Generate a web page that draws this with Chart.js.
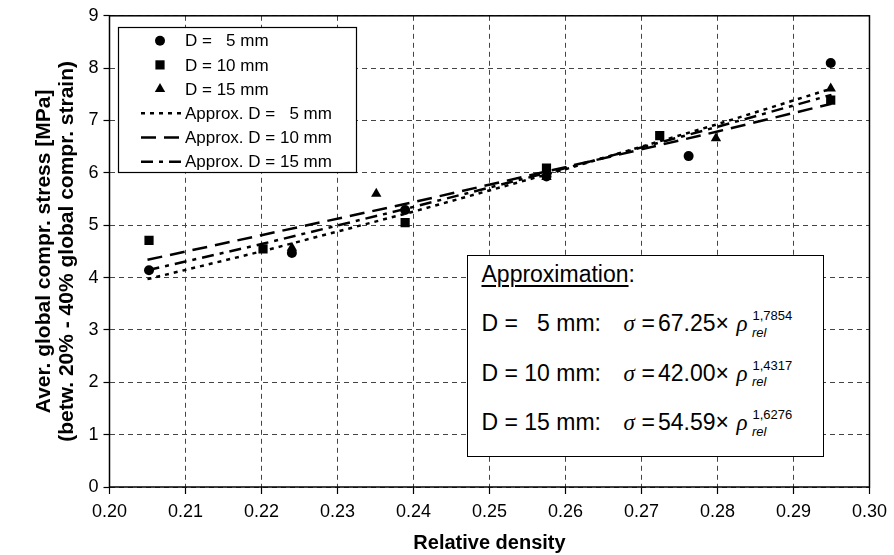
<!DOCTYPE html>
<html>
<head>
<meta charset="utf-8">
<script src="https://cdn.jsdelivr.net/npm/chart.js@4.4.1/dist/chart.umd.min.js"></script>
<style>
html,body{margin:0;padding:0;background:#fff;}
#wrap{position:relative;width:894px;height:555px;overflow:hidden;}
#c{position:absolute;left:0;top:0;}
#approx{position:absolute;left:467px;top:255px;width:357px;height:202px;box-sizing:border-box;border:1.5px solid #000;background:#fff;font-family:'Liberation Sans',Arial,sans-serif;font-size:23px;color:#000;}
.row{position:absolute;left:0;width:100%;height:27px;line-height:27px;}
.row > span{position:absolute;top:0;white-space:pre;}
.greek{font-family:'Liberation Serif','Times New Roman',serif;font-style:italic;}
.small{font-size:13px;line-height:13px;}
.u{text-decoration:underline;text-underline-offset:3px;text-decoration-thickness:1.5px;}
</style>
</head>
<body>
<div id="wrap">
<canvas id="c" width="894" height="555"></canvas>
<div id="approx"></div>
</div>
<script>
// ---------- data ----------
const densD5    = [0.2052, 0.2240, 0.2389, 0.2575, 0.2762, 0.2949];
const stressD5  = [4.14, 4.47, 5.29, 5.93, 6.32, 8.10];
const densD10   = [0.2052, 0.2202, 0.2389, 0.2575, 0.2724, 0.2949];
const stressD10 = [4.71, 4.55, 5.05, 6.09, 6.71, 7.39];
const densD15   = [0.2240, 0.2351, 0.2575, 0.2798, 0.2949];
const stressD15 = [4.57, 5.60, 5.92, 6.66, 7.61];

const fitDens  = [0.205, 0.220, 0.240, 0.260, 0.280, 0.295];
const fitD5    = [3.97, 4.50, 5.26, 6.07, 6.93, 7.61];
const fitD10   = [4.34, 4.81, 5.44, 6.11, 6.79, 7.32];
const fitD15   = [4.14, 4.64, 5.35, 6.09, 6.88, 7.49];

const seriesLabels = ['D =   5 mm', 'D = 10 mm', 'D = 15 mm',
                      'Approx. D =   5 mm', 'Approx. D = 10 mm', 'Approx. D = 15 mm'];

const xTickValues = [0.20, 0.21, 0.22, 0.23, 0.24, 0.25, 0.26, 0.27, 0.28, 0.29, 0.30];
const xTickLabels = ['0.20', '0.21', '0.22', '0.23', '0.24', '0.25', '0.26', '0.27', '0.28', '0.29', '0.30'];
const yTickValues = [0, 1, 2, 3, 4, 5, 6, 7, 8, 9];
const yTickLabels = ['0', '1', '2', '3', '4', '5', '6', '7', '8', '9'];

const xTitle = 'Relative density';
const yTitle = ['Aver. global compr. stress [MPa]', '(betw. 20% - 40% global compr. strain)'];

const approxTitle = 'Approximation';
const approxRowLabels = ['D =   5 mm:', 'D = 10 mm:', 'D = 15 mm:'];
const approxCoef = ['67.25', '42.00', '54.59'];
const approxExp  = ['1,7854', '1,4317', '1,6276'];

// ---------- helpers ----------
const pts = (xs, ys) => xs.map((x, i) => ({x: x, y: ys[i]}));
const FONT = "'Liberation Sans', Arial, sans-serif";

function markerSet(label, xs, ys, style, r) {
  return {label, data: pts(xs, ys), pointStyle: style, pointRadius: r, pointHoverRadius: r,
          backgroundColor: '#000', borderColor: '#000', borderWidth: 0, showLine: false};
}
function lineSet(label, xs, ys, dash) {
  return {label, data: pts(xs, ys), showLine: true, pointRadius: 0, pointHoverRadius: 0,
          borderColor: '#000', backgroundColor: '#000', borderWidth: 2.5, borderDash: dash, fill: false, tension: 0};
}

const datasets = [
  markerSet(seriesLabels[0], densD5, stressD5, 'circle', 5),
  markerSet(seriesLabels[1], densD10, stressD10, 'rect', 6.5),
  markerSet(seriesLabels[2], densD15, stressD15, 'triangle', 6),
  lineSet(seriesLabels[3], fitDens, fitD5, [4, 5]),
  lineSet(seriesLabels[4], fitDens, fitD10, [15, 8]),
  lineSet(seriesLabels[5], fitDens, fitD15, [12, 6, 4, 6])
];

const framePlugin = {
  id: 'frameAndLegend',
  afterDraw(chart) {
    const ctx = chart.ctx, a = chart.chartArea;
    ctx.save();
    ctx.setLineDash([]);
    ctx.strokeStyle = '#000';
    ctx.lineWidth = 1.5;
    ctx.strokeRect(a.left, a.top, a.right - a.left, a.bottom - a.top);
    // legend box
    const L = {x: 118.5, y: 27.5, w: 238, h: 145};
    ctx.fillStyle = '#fff';
    ctx.fillRect(L.x, L.y, L.w, L.h);
    ctx.lineWidth = 1.2;
    ctx.strokeRect(L.x, L.y, L.w, L.h);
    ctx.font = '17px ' + FONT;
    ctx.textBaseline = 'middle';
    ctx.textAlign = 'left';
    chart.data.datasets.forEach((ds, i) => {
      const cy = 40.7 + i * 24.2;
      if (ds.showLine) {
        ctx.save();
        ctx.strokeStyle = ds.borderColor;
        ctx.lineWidth = ds.borderWidth;
        ctx.setLineDash(ds.borderDash);
        ctx.beginPath();
        ctx.moveTo(141, cy);
        ctx.lineTo(181, cy);
        ctx.stroke();
        ctx.restore();
      } else {
        ctx.save();
        ctx.fillStyle = '#000';
        ctx.strokeStyle = '#000';
        Chart.helpers.drawPoint(ctx, {pointStyle: ds.pointStyle, radius: ds.pointRadius, rotation: 0, borderWidth: 0}, 160, cy);
        ctx.restore();
      }
      ctx.fillStyle = '#000';
      ctx.fillText(ds.label, 185, cy + 1);
    });
    ctx.restore();
  }
};

new Chart(document.getElementById('c'), {
  type: 'scatter',
  data: {datasets},
  plugins: [framePlugin],
  options: {
    responsive: false,
    animation: false,
    devicePixelRatio: 1,
    layout: {padding: {left: 0, right: 23.5, top: 15, bottom: 0}},
    plugins: {legend: {display: false}, tooltip: {enabled: false}},
    scales: {
      x: {
        type: 'linear', position: 'bottom', min: 0.2, max: 0.3,
        afterBuildTicks: s => { s.ticks = xTickValues.map(v => ({value: v})); },
        afterFit: s => { s.height = 68; },
        ticks: {autoSkip: false, maxRotation: 0, padding: 7, color: '#000',
                font: {family: FONT, size: 18},
                callback: (v, i) => xTickLabels[i]},
        grid: {color: '#444', lineWidth: 1, tickLength: 7, tickColor: '#000', tickWidth: 1.2},
        border: {display: false, dash: [5, 4]},
        title: {display: true, text: xTitle, color: '#000', padding: {top: 0, bottom: 0},
                font: {family: FONT, size: 20, weight: 'bold', lineHeight: 1.2}}
      },
      y: {
        type: 'linear', position: 'left', min: 0, max: 9,
        afterBuildTicks: s => { s.ticks = yTickValues.map(v => ({value: v})); },
        afterFit: s => { s.width = 109.5; },
        ticks: {padding: 5, color: '#000', font: {family: FONT, size: 18},
                callback: (v, i) => yTickLabels[i]},
        grid: {color: '#444', lineWidth: 1, tickLength: 6, tickColor: '#000', tickWidth: 1.2},
        border: {display: false, dash: [5, 4]},
        title: {display: true, text: yTitle, color: '#000', padding: {top: 32, bottom: 0},
                font: {family: FONT, size: 21, weight: 'bold', lineHeight: 1.12}}
      }
    }
  }
});

// ---------- approximation box ----------
(function () {
  const box = document.getElementById('approx');
  const rowTops = [5, 54, 103.7, 153.2];
  let html = '<div class="row" style="top:' + rowTops[0] + 'px"><span style="left:13.5px"><span class="u">' +
             approxTitle + '</span>:</span></div>';
  for (let i = 0; i < 3; i++) {
    html += '<div class="row" style="top:' + rowTops[i + 1] + 'px">' +
      '<span style="left:13.5px">' + approxRowLabels[i] + '</span>' +
      '<span class="greek" style="left:155.5px">σ</span>' +
      '<span style="left:173.5px">=</span>' +
      '<span style="left:190px">' + approxCoef[i] + '</span>' +
      '<span style="left:247.5px">×</span>' +
      '<span class="greek" style="left:268.5px">ρ</span>' +
      '<span class="small" style="left:284.5px;top:-1.2px">' + approxExp[i] + '</span>' +
      '<span class="small" style="left:284px;top:15.8px;font-style:italic">rel</span>' +
      '</div>';
  }
  box.innerHTML = html;
})();
</script>
</body>
</html>
